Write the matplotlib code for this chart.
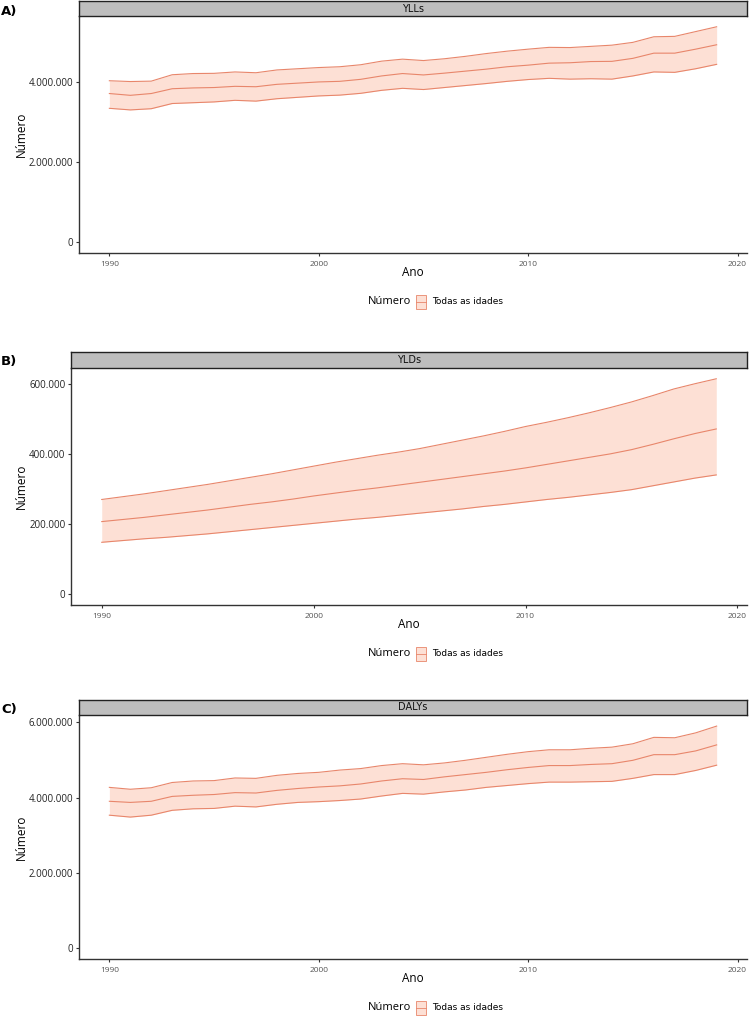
import numpy as np
import matplotlib
matplotlib.use("Agg")
import matplotlib.pyplot as plt
from matplotlib.ticker import FuncFormatter
from matplotlib.patches import Rectangle
from matplotlib.lines import Line2D

plt.rcParams['font.family'] = ['Open Sans', 'DejaVu Sans']

# Years 1990-2019
years = np.arange(1990, 2020)

# YLLs (Numero, todas as idades)
yll_val = [3720000, 3675000, 3720000, 3840000, 3860000, 3870000, 3900000, 3890000, 3950000, 3980000,
           4010000, 4025000, 4075000, 4160000, 4220000, 4185000, 4230000, 4280000, 4330000, 4390000,
           4430000, 4480000, 4490000, 4520000, 4525000, 4600000, 4730000, 4730000, 4830000, 4940000]
yll_upper = [4040000, 4020000, 4030000, 4190000, 4220000, 4225000, 4260000, 4240000, 4310000, 4340000,
             4370000, 4390000, 4440000, 4530000, 4580000, 4545000, 4590000, 4650000, 4720000, 4780000,
             4830000, 4875000, 4870000, 4900000, 4930000, 5000000, 5140000, 5150000, 5270000, 5390000]
yll_lower = [3350000, 3310000, 3340000, 3470000, 3490000, 3510000, 3550000, 3530000, 3590000, 3625000,
             3660000, 3680000, 3725000, 3800000, 3850000, 3820000, 3870000, 3920000, 3970000, 4025000,
             4070000, 4100000, 4080000, 4090000, 4080000, 4160000, 4260000, 4250000, 4340000, 4450000]

# YLDs
yld_val = [207000, 213000, 219000, 226000, 233000, 240000, 248000, 256000, 263000, 271000,
           280000, 288000, 296000, 303000, 311000, 319000, 327000, 335000, 343000, 351000,
           360000, 370000, 380000, 390000, 400000, 412000, 427000, 443000, 458000, 471000]
yld_upper = [270000, 278000, 286000, 295000, 304000, 313000, 323000, 333000, 343000, 354000,
             365000, 376000, 386000, 396000, 405000, 415000, 427000, 439000, 451000, 464000,
             478000, 490000, 503000, 517000, 532000, 548000, 566000, 585000, 600000, 614000]
yld_lower = [148000, 153000, 158000, 162000, 167000, 172000, 178000, 184000, 190000, 196000,
             202000, 208000, 214000, 219000, 225000, 231000, 237000, 243000, 250000, 256000,
             263000, 270000, 276000, 283000, 290000, 298000, 309000, 320000, 331000, 340000]

# DALYs
daly_val = [3900000, 3870000, 3900000, 4030000, 4060000, 4080000, 4130000, 4120000, 4190000, 4240000,
            4280000, 4310000, 4360000, 4440000, 4500000, 4480000, 4550000, 4610000, 4670000, 4740000,
            4800000, 4850000, 4850000, 4880000, 4900000, 4990000, 5140000, 5140000, 5240000, 5400000]
daly_upper = [4270000, 4220000, 4260000, 4400000, 4440000, 4450000, 4520000, 4510000, 4590000, 4640000,
              4670000, 4730000, 4770000, 4850000, 4900000, 4870000, 4920000, 4990000, 5070000, 5150000,
              5220000, 5270000, 5270000, 5310000, 5340000, 5430000, 5600000, 5590000, 5720000, 5900000]
daly_lower = [3530000, 3480000, 3530000, 3660000, 3700000, 3710000, 3770000, 3750000, 3820000, 3870000,
              3890000, 3920000, 3960000, 4040000, 4110000, 4090000, 4150000, 4200000, 4270000, 4320000,
              4370000, 4410000, 4410000, 4420000, 4430000, 4510000, 4610000, 4610000, 4720000, 4860000]

panels = [
    ("A)", "YLLs", yll_val, yll_lower, yll_upper, [0, 2000000, 4000000]),
    ("B)", "YLDs", yld_val, yld_lower, yld_upper, [0, 200000, 400000, 600000]),
    ("C)", "DALYs", daly_val, daly_lower, daly_upper, [0, 2000000, 4000000, 6000000]),
]

# pixel boxes: left, right, strip top, plot top, plot bottom
boxes = [
    (79, 747, 1, 16, 253),
    (71, 747, 352, 368, 605),
    (79, 747, 700, 715, 959),
]

W, H = 750, 1016
fill_col = '#fde0d5'
line_col = '#e8866b'
axis_col = '#333333'
narrow = ['Liberation Sans Narrow', 'DejaVu Sans']

fig = plt.figure(figsize=(7.5, 10.16), dpi=100)

def fmt(v, pos):
    return f"{int(round(v)):,}".replace(',', '.')

for (lab, name, val, lo, up, yt), (l, r, st, t, b) in zip(panels, boxes):
    ax = fig.add_axes([l / W, 1 - b / H, (r - l) / W, (b - t) / H])
    ax.fill_between(years, lo, up, color=fill_col, lw=0)
    ax.plot(years, up, color=line_col, lw=0.8)
    ax.plot(years, val, color=line_col, lw=0.8)
    ax.plot(years, lo, color=line_col, lw=0.8)

    ymax = max(up)
    pad = 0.05 * ymax
    ax.set_ylim(-pad, ymax + pad)
    ax.set_xlim(1990 - 1.45, 2019 + 1.45)
    ax.set_yticks(yt)
    ax.set_xticks([1990, 2000, 2010, 2020])
    ax.yaxis.set_major_formatter(FuncFormatter(fmt))
    for s in ['top', 'right']:
        ax.spines[s].set_visible(False)
    for s in ['left', 'bottom']:
        ax.spines[s].set_color(axis_col)
        ax.spines[s].set_linewidth(1.0)
    ax.tick_params(axis='y', length=2.5, width=0.8, color=axis_col, labelsize=7,
                   labelcolor='#222222', pad=1.5)
    ax.tick_params(axis='x', length=2.5, width=0.8, color=axis_col, labelsize=6,
                   labelcolor='#555555', pad=3)
    ax.set_ylabel("Número", fontsize=8.5, color='black', labelpad=1)
    ax.set_xlabel("Ano", fontsize=8.5, color='black', labelpad=-1)

    # facet strip
    sax = fig.add_axes([l / W, 1 - t / H, (r - l) / W, (t - st) / H])
    sax.set_facecolor('#bebebe')
    sax.set_xticks([])
    sax.set_yticks([])
    for s in sax.spines.values():
        s.set_color('#222222')
        s.set_linewidth(1.0)
    sax.text(0.5, 0.5, name, ha='center', va='center', fontsize=7,
             family=narrow, color='#111111', transform=sax.transAxes)

    # panel label
    fig.text(1 / W, 1 - (st + 10) / H, lab, fontsize=9.5, fontweight='bold',
             family=narrow, ha='left', va='center')

    # legend
    ly = b + 49
    fig.text(411 / W, 1 - ly / H, "Número", fontsize=8, ha='right', va='center')
    kx, kw, kh = 416, 10, 14
    fig.patches.append(Rectangle((kx / W, 1 - (ly + kh / 2) / H), kw / W, kh / H,
                                 transform=fig.transFigure, facecolor=fill_col,
                                 edgecolor=line_col, lw=0.6))
    fig.lines.append(Line2D([kx / W, (kx + kw) / W], [1 - ly / H, 1 - ly / H],
                            transform=fig.transFigure, color=line_col, lw=0.6))
    fig.text(432 / W, 1 - ly / H, "Todas as idades", fontsize=6.5, family=narrow,
             ha='left', va='center')

fig.savefig("out.png", dpi=100)
